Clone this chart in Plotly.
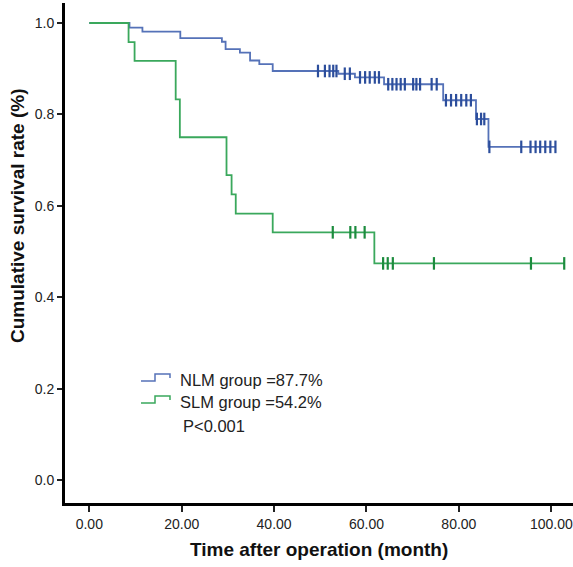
import plotly.graph_objects as go

# ---- data ----
nlm_times = [0, 8.7, 11.5, 19.7, 28.7, 29.5, 32.6, 34.8, 36.8, 39.7, 53.9, 57.5, 63.8, 76.6, 83.7, 86.4, 100.9]
nlm_surv = [1.0, 0.990, 0.981, 0.967, 0.959, 0.943, 0.935, 0.918, 0.910, 0.895, 0.889, 0.881, 0.866, 0.831, 0.790, 0.729, 0.729]
nlm_cens_t = [49.5, 51.0, 52.0, 52.8, 53.5,
              55.3, 56.4,
              58.6, 59.7, 60.7, 61.8, 62.7,
              64.7, 65.6, 66.5, 67.4, 68.3, 70.1, 70.8, 71.6, 74.1, 75.2,
              77.2, 78.3, 79.4, 80.5, 81.6, 82.6,
              83.9, 84.8, 85.5,
              86.6, 93.5, 95.5, 96.6, 97.6, 98.7, 99.8, 100.9]

slm_times = [0, 8.5, 9.8, 18.7, 19.6, 29.7, 30.8, 31.7, 39.7, 61.7, 102.8]
slm_surv = [1.0, 0.958, 0.917, 0.833, 0.750, 0.667, 0.625, 0.583, 0.542, 0.474, 0.474]
slm_cens_t = [52.7, 56.5, 57.6, 59.6, 63.6, 64.6, 65.7, 74.6, 95.6, 102.8]

x_ticks = [0, 20, 40, 60, 80, 100]
y_ticks = [0.0, 0.2, 0.4, 0.6, 0.8, 1.0]

legend_labels = ["NLM group =87.7%", "SLM group =54.2%"]
p_label = "P<0.001"
x_title = "Time after operation (month)"
y_title = "Cumulative survival rate (%)"

BLUE = "#5572b8"
BLUE_D = "#2c4e9c"
GREEN = "#3aa85c"
GREEN_D = "#1c8c3e"


def surv_at(times, surv, t):
    s = surv[0]
    for ti, si in zip(times, surv):
        if ti <= t:
            s = si
    return s


W, H = 573, 567
L, R, T, B = 65, 0, 3, 64
PW, PH = W - L - R, H - T - B


def px(x):
    return (x - L) / PW


def py(y):
    return (H - B - y) / PH


fig = go.Figure()
fig.add_trace(go.Scatter(x=nlm_times, y=nlm_surv, mode="lines", line=dict(shape="hv", color=BLUE, width=1.8),
                         showlegend=False, hoverinfo="skip"))
fig.add_trace(go.Scatter(x=slm_times, y=slm_surv, mode="lines", line=dict(shape="hv", color=GREEN, width=1.8),
                         showlegend=False, hoverinfo="skip"))
fig.add_trace(go.Scatter(x=nlm_cens_t, y=[surv_at(nlm_times, nlm_surv, t) for t in nlm_cens_t], mode="markers",
                         marker=dict(symbol="line-ns", size=9, line=dict(width=2.2, color=BLUE_D)),
                         showlegend=False, hoverinfo="skip"))
fig.add_trace(go.Scatter(x=slm_cens_t, y=[surv_at(slm_times, slm_surv, t) for t in slm_cens_t], mode="markers",
                         marker=dict(symbol="line-ns", size=9, line=dict(width=2.2, color=GREEN_D)),
                         showlegend=False, hoverinfo="skip"))

# custom legend glyphs (step shaped)
def glyph(y0, color):
    pts = [(141, y0), (155, y0), (155, y0 - 7), (170, y0 - 7), (170, y0 - 3)]
    path = "M " + " L ".join(f"{px(a):.5f},{py(b):.5f}" for a, b in pts)
    return dict(type="path", xref="paper", yref="paper", path=path, line=dict(color=color, width=1.5))

shapes = [glyph(381, BLUE), glyph(403, GREEN)]

font_main = "Liberation Sans, Arial, sans-serif"
annotations = [
    dict(x=px(178), y=py(380), xref="paper", yref="paper", text=legend_labels[0], showarrow=False,
         xanchor="left", yanchor="middle", font=dict(size=16.5, color="#222222", family=font_main)),
    dict(x=px(178), y=py(402), xref="paper", yref="paper", text=legend_labels[1], showarrow=False,
         xanchor="left", yanchor="middle", font=dict(size=16.5, color="#222222", family=font_main)),
    dict(x=px(181), y=py(426), xref="paper", yref="paper", text=p_label, showarrow=False,
         xanchor="left", yanchor="middle", font=dict(size=16.5, color="#222222", family=font_main)),
    dict(x=0.5, y=py(549), xref="paper", yref="paper", text=f"<b>{x_title}</b>", showarrow=False,
         xanchor="center", yanchor="middle", font=dict(size=19, color="#111111", family=font_main)),
    dict(x=px(17), y=py(216), xref="paper", yref="paper", text=f"<b>{y_title}</b>", showarrow=False,
         textangle=-90, xanchor="center", yanchor="middle", font=dict(size=19, color="#111111", family=font_main)),
]

fig.update_layout(
    width=W, height=H,
    margin=dict(l=L, r=R, t=T, b=B, autoexpand=False),
    paper_bgcolor="white", plot_bgcolor="white",
    shapes=shapes, annotations=annotations,
    font=dict(family=font_main, size=14, color="#222222"),
    hovermode=False,
    xaxis=dict(range=[-5.26, 104.7], tickvals=x_ticks, ticktext=[f"{v:.2f}" for v in x_ticks],
               showgrid=False, zeroline=False, showline=True, linecolor="black", linewidth=3,
               ticks="outside", ticklen=6, tickwidth=2, tickcolor="#222222",
               tickfont=dict(size=14, color="#222222")),
    yaxis=dict(range=[-0.0503, 1.0438], tickvals=y_ticks, ticktext=[f"{v:.1f}" for v in y_ticks],
               showgrid=False, zeroline=False, showline=True, linecolor="black", linewidth=3,
               ticks="outside", ticklen=5, tickwidth=2, tickcolor="#222222",
               tickfont=dict(size=14, color="#222222")),
)

fig.write_html("out.html", config={"displayModeBar": False},
               post_script="document.body.style.margin='0';document.body.style.overflow='hidden';")
